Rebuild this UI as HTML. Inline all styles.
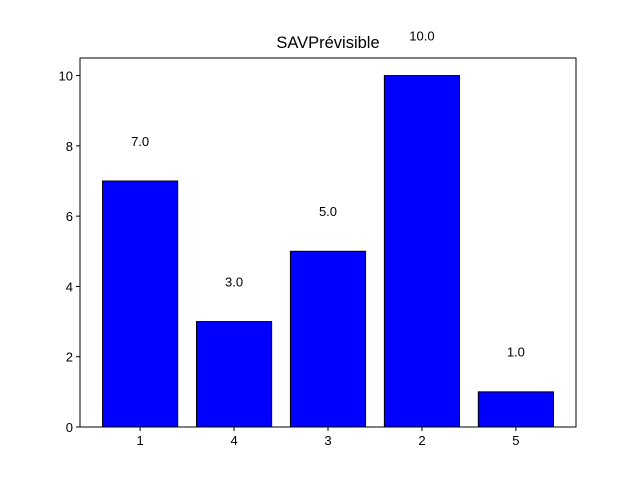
<!DOCTYPE html>
<html><head><meta charset="utf-8"><style>
body{margin:0;background:#fff;}
svg text{font-family:"Liberation Sans","DejaVu Sans",sans-serif;}
</style></head><body>
<svg id="chart" width="640" height="480" xmlns="http://www.w3.org/2000/svg">
<rect width="640" height="480" fill="#fff"/>
<text x="328" y="48" font-size="16.5" text-anchor="middle">SAVPrévisible</text>
<g id="marks"></g>
<rect x="80" y="58" width="496" height="369" fill="none" stroke="#000" stroke-width="1"/>
</svg>
<script>
const categories = ["1","4","3","2","5"];
const values = [7,3,5,10,1];
const yTicks = [0,2,4,6,8,10];
const L=80,R=576,T=58,B=427;
const xMin=-0.64,xMax=4.64,yMin=0,yMax=10.5;
function xs(v){return L+(v-xMin)/(xMax-xMin)*(R-L);}
function ys(v){return B-(v-yMin)/(yMax-yMin)*(B-T);}
const g=document.getElementById('marks');
const NS="http://www.w3.org/2000/svg";
function mk(tag,attrs){const e=document.createElementNS(NS,tag);for(const k in attrs)e.setAttribute(k,attrs[k]);g.appendChild(e);return e;}
categories.forEach((c,i)=>{
  const r=mk('rect',{x:xs(i-0.4),y:ys(values[i]),width:xs(i+0.4)-xs(i-0.4),height:ys(0)-ys(values[i]),fill:'#0000ff',stroke:'#000','stroke-width':1});
  
  
  const t=mk('text',{x:xs(i),y:ys(values[i]+1),'font-size':13,'text-anchor':'middle'});
  t.textContent=values[i].toFixed(1);
  
  
  const tk=mk('line',{x1:xs(i),x2:xs(i),y1:B,y2:B+4,stroke:'#000'});
  
  
  const tl=mk('text',{x:xs(i),y:B+18,'font-size':13,'text-anchor':'middle'});
  tl.textContent=c;
  
  
});
yTicks.forEach(v=>{
  const tk=mk('line',{x1:L-4,x2:L,y1:ys(v),y2:ys(v),stroke:'#000'});
  
  
  const tl=mk('text',{x:L-7,y:ys(v)+5,'font-size':13,'text-anchor':'end'});
  tl.textContent=v;
  
  
});
</script>
</body></html>
